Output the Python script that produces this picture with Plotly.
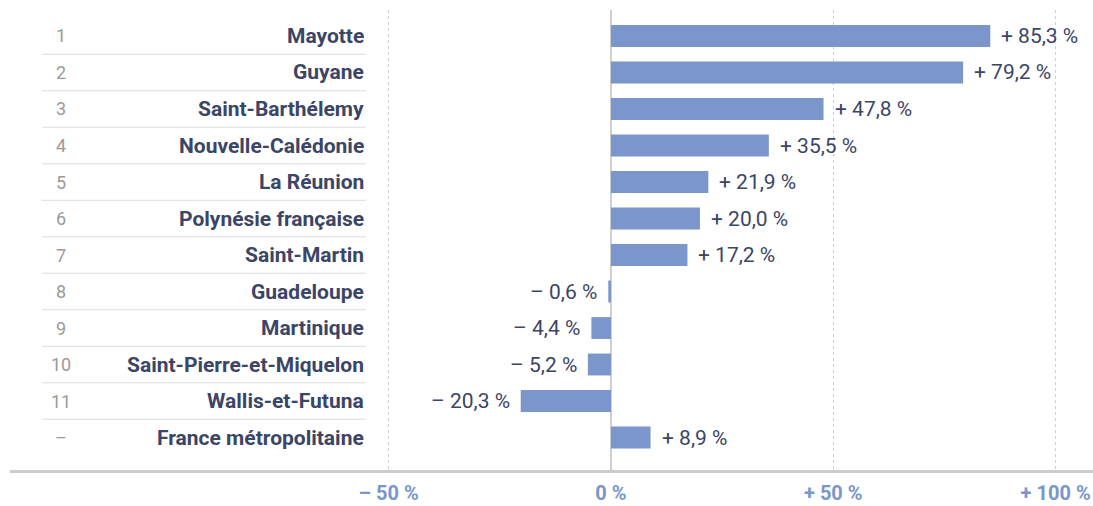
import plotly.graph_objects as go

ranks = ["1", "2", "3", "4", "5", "6", "7", "8", "9", "10", "11", "–"]
territories = ["Mayotte", "Guyane", "Saint-Barthélemy", "Nouvelle-Calédonie", "La Réunion",
               "Polynésie française", "Saint-Martin", "Guadeloupe", "Martinique",
               "Saint-Pierre-et-Miquelon", "Wallis-et-Futuna", "France métropolitaine"]
growth = [85.3, 79.2, 47.8, 35.5, 21.9, 20.0, 17.2, -0.6, -4.4, -5.2, -20.3, 8.9]
tick_vals = [-50, 0, 50, 100]
tick_text = ["– 50 %", "0 %", "+ 50 %", "+ 100 %"]

FONT = "Roboto"
NAVY = "#3b4565"
BAR = "#7a96cb"
GRID = "#cfcfcf"

def fmt(v):
    s = f"{abs(v):.1f}".replace(".", ",")
    return ("+ " if v >= 0 else "– ") + s + " %"

idx = list(range(len(territories)))

fig = go.Figure(go.Bar(
    x=growth, y=idx, orientation="h", width=0.6,
    marker=dict(color=BAR, line=dict(width=0)),
    hoverinfo="skip",
))

ann = []
for i, (r, n, v) in enumerate(zip(ranks, territories, growth)):
    ann.append(dict(x=0.047, y=i, xref="paper", yref="y", text=r, showarrow=False,
                    xanchor="center", yanchor="middle",
                    font=dict(family=FONT, size=18, color="#9a9a9a")))
    ann.append(dict(x=0.3287, y=i, xref="paper", yref="y", text=f"<b>{n}</b>", showarrow=False,
                    xanchor="right", yanchor="middle",
                    font=dict(family=FONT, size=21, color=NAVY)))
    ann.append(dict(x=v, y=i, xref="x", yref="y", text=fmt(v), showarrow=False,
                    xanchor="left" if v >= 0 else "right",
                    xshift=9 if v >= 0 else -9, yanchor="middle",
                    font=dict(family=FONT, size=21, color=NAVY)))

shapes = []
for i in range(len(territories) - 1):
    shapes.append(dict(type="line", xref="paper", yref="y", x0=0.0295, x1=0.3287,
                       y0=i + 0.5, y1=i + 0.5, line=dict(color="#dcdcdc", width=1)))

fig.update_layout(
    width=1093, height=506,
    margin=dict(l=10, r=0, t=10, b=36, autoexpand=False),
    plot_bgcolor="white", paper_bgcolor="white",
    showlegend=False,
    annotations=ann, shapes=shapes,
    xaxis=dict(range=[-135.15, 108.4], tickvals=tick_vals, ticktext=tick_text,
               showgrid=True, gridcolor=GRID, griddash="dot", gridwidth=1,
               zeroline=True, zerolinecolor=GRID, zerolinewidth=2,
               showline=True, linecolor="#cccccc", linewidth=3,
               ticks="outside", ticklen=3, tickcolor="rgba(0,0,0,0)",
               tickfont=dict(family=FONT, size=20, color=BAR, weight="bold"),
               automargin=False, fixedrange=True),
    yaxis=dict(range=[11.89, -0.712], showticklabels=False, showgrid=False,
               zeroline=False, showline=False, automargin=False, fixedrange=True),
)

fig.write_html("out.html")
